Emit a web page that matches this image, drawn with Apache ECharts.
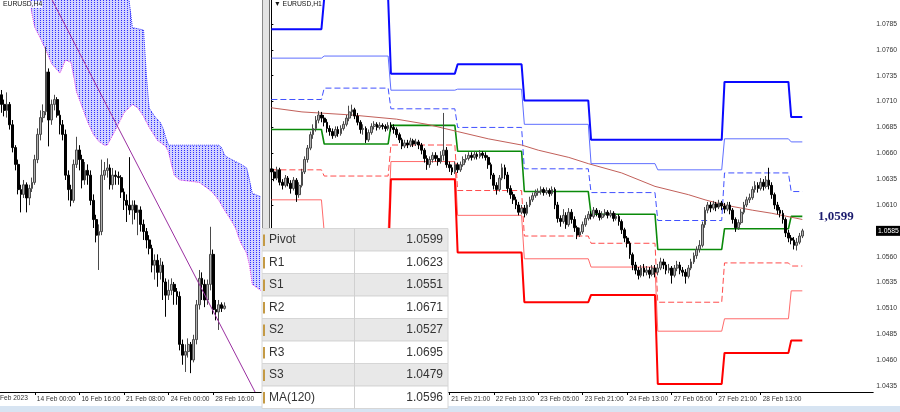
<!DOCTYPE html>
<html><head><meta charset="utf-8">
<script src="https://cdn.jsdelivr.net/npm/echarts@6/dist/echarts.min.js"></script>
<style>html,body{margin:0;padding:0;background:#fff;overflow:hidden}#c{width:900px;height:412px}</style>
</head><body><div id="c"></div>
<script>
// ================= DATA =================
// H4 panel (left) candles: [open, close, low, high]
const h4Candles = [
[1.0771,1.0763,1.0756,1.0775],[1.0763,1.0758,1.0753,1.0767],[1.0758,1.0763,1.0752,1.0773],[1.0763,1.0746,1.0742,1.0765],
[1.0746,1.0727,1.0723,1.0750],[1.0727,1.0713,1.0708,1.0729],[1.0713,1.0692,1.0688,1.0717],[1.0692,1.0688,1.0673,1.0696],
[1.0688,1.0696,1.0685,1.0700],[1.0696,1.0685,1.0673,1.0698],[1.0685,1.0693,1.0679,1.0696],[1.0693,1.0698,1.0690,1.0702],
[1.0698,1.0717,1.0696,1.0721],[1.0717,1.0738,1.0714,1.0743],[1.0738,1.0752,1.0733,1.0758],[1.0752,1.0757,1.0748,1.0763],
[1.0757,1.0790,1.0754,1.0811],[1.0790,1.0750,1.0728,1.0793],[1.0750,1.0763,1.0746,1.0767],[1.0763,1.0767,1.0758,1.0771],
[1.0767,1.0754,1.0752,1.0769],[1.0754,1.0746,1.0738,1.0758],[1.0746,1.0738,1.0733,1.0750],[1.0738,1.0704,1.0700,1.0742],
[1.0704,1.0692,1.0683,1.0708],[1.0692,1.0683,1.0678,1.0696],[1.0683,1.0713,1.0681,1.0717],[1.0713,1.0725,1.0710,1.0736],
[1.0725,1.0717,1.0708,1.0729],[1.0717,1.0700,1.0693,1.0721],[1.0700,1.0708,1.0696,1.0715],[1.0708,1.0704,1.0696,1.0713],
[1.0704,1.0683,1.0679,1.0708],[1.0683,1.0667,1.0660,1.0688],[1.0667,1.0654,1.0648,1.0671],[1.0654,1.0657,1.0625,1.0663],
[1.0657,1.0704,1.0654,1.0717],[1.0704,1.0708,1.0700,1.0715],[1.0708,1.0710,1.0702,1.0718],[1.0710,1.0696,1.0692,1.0713],
[1.0696,1.0704,1.0692,1.0710],[1.0704,1.0703,1.0696,1.0708],[1.0703,1.0702,1.0696,1.0707],[1.0702,1.0690,1.0685,1.0704],
[1.0690,1.0683,1.0675,1.0693],[1.0683,1.0679,1.0665,1.0688],[1.0679,1.0675,1.0671,1.0719],[1.0675,1.0679,1.0663,1.0683],
[1.0679,1.0673,1.0667,1.0683],[1.0673,1.0675,1.0654,1.0679],[1.0675,1.0663,1.0657,1.0678],[1.0663,1.0657,1.0650,1.0667],
[1.0657,1.0650,1.0643,1.0660],[1.0650,1.0643,1.0638,1.0654],[1.0643,1.0629,1.0623,1.0646],[1.0629,1.0633,1.0617,1.0638],
[1.0633,1.0623,1.0611,1.0638],[1.0623,1.0629,1.0617,1.0635],[1.0629,1.0615,1.0600,1.0632],[1.0615,1.0604,1.0586,1.0618],
[1.0604,1.0608,1.0600,1.0617],[1.0608,1.0613,1.0604,1.0618],[1.0613,1.0607,1.0596,1.0615],[1.0607,1.0603,1.0596,1.0610],
[1.0603,1.0563,1.0558,1.0607],[1.0563,1.0554,1.0546,1.0567],[1.0554,1.0557,1.0540,1.0563],[1.0557,1.0563,1.0552,1.0568],
[1.0563,1.0550,1.0539,1.0565],[1.0550,1.0567,1.0548,1.0571],[1.0567,1.0596,1.0563,1.0600],[1.0596,1.0618,1.0592,1.0625],
[1.0618,1.0613,1.0600,1.0623],[1.0613,1.0600,1.0594,1.0617],[1.0600,1.0613,1.0596,1.0617],[1.0613,1.0638,1.0608,1.0661],
[1.0638,1.0592,1.0588,1.0642],[1.0592,1.0590,1.0583,1.0600],[1.0590,1.0596,1.0575,1.0600],[1.0596,1.0593,1.0590,1.0598],
[1.0593,1.0595,1.0592,1.0598]
];
const h4SlotCount = 94;
const h4TickLabels = [[12,'14 Feb 00:00'],[28,'16 Feb 16:00'],[44,'21 Feb 08:00'],[60,'24 Feb 00:00'],[76,'28 Feb 16:00']];
const h4FirstLabel = 'Feb 2023';
// Ichimoku cloud borders [bar, price]
const kumoUpper = [[9,1.0867],[45,1.0867],[46,1.0846],[47,1.0827],[51,1.0825],[52,1.0788],[53,1.0760],[55,1.0753],[57,1.0748],[58,1.0743],[59,1.0735],[60,1.0729],[78,1.0729],[79,1.0727],[80,1.0721],[81,1.0719],[86,1.0713],[88,1.0710],[89,1.0700],[90,1.0689],[93,1.0686]];
const kumoLower = [[9,1.0867],[10,1.0854],[11,1.0838],[12,1.0827],[14,1.0818],[16,1.0808],[18,1.0797],[21,1.0789],[23,1.0800],[25,1.0798],[27,1.0773],[28,1.0767],[31,1.0748],[33,1.0738],[35,1.0732],[37,1.0729],[38,1.0729],[41,1.0742],[44,1.0756],[47,1.0763],[49,1.0760],[51,1.0753],[53,1.0744],[56,1.0733],[59,1.0728],[60,1.0723],[61,1.0713],[62,1.0704],[64,1.0700],[71,1.0698],[74,1.0693],[76,1.0689],[78,1.0683],[80,1.0675],[82,1.0668],[84,1.0660],[85,1.0653],[86,1.0647],[88,1.0639],[89,1.0629],[90,1.0613],[93,1.0608]];
const h4TrendLine = [[18.2,1.0850],[91,1.05233]];

// H1 panel (right) candles: [open, close, low, high]
const h1Candles = [
[1.0645,1.0642,1.0638,1.0649],[1.0642,1.0636,1.0633,1.0645],[1.0636,1.0644,1.0634,1.0647],[1.0644,1.0632,1.0629,1.0646],
[1.0632,1.0629,1.0625,1.0635],[1.0629,1.0636,1.0627,1.0639],[1.0636,1.0631,1.0628,1.0638],[1.0631,1.0626,1.0621,1.0634],
[1.0626,1.0634,1.0624,1.0637],[1.0634,1.0620,1.0613,1.0636],[1.0620,1.0629,1.0617,1.0632],[1.0629,1.0642,1.0627,1.0645],
[1.0642,1.0654,1.0640,1.0657],[1.0654,1.0665,1.0651,1.0668],[1.0665,1.0678,1.0663,1.0681],[1.0678,1.0684,1.0674,1.0688],
[1.0684,1.0692,1.0681,1.0696],[1.0692,1.0697,1.0689,1.0701],[1.0697,1.0694,1.0690,1.0700],[1.0694,1.0690,1.0686,1.0697],
[1.0690,1.0684,1.0680,1.0693],[1.0684,1.0681,1.0677,1.0687],[1.0681,1.0677,1.0674,1.0684],[1.0677,1.0683,1.0675,1.0686],
[1.0683,1.0679,1.0676,1.0686],[1.0679,1.0684,1.0677,1.0687],[1.0684,1.0688,1.0682,1.0691],[1.0688,1.0694,1.0686,1.0697],
[1.0694,1.0700,1.0691,1.0706],[1.0700,1.0702,1.0696,1.0707],[1.0702,1.0696,1.0693,1.0704],[1.0696,1.0690,1.0687,1.0699],
[1.0690,1.0683,1.0679,1.0692],[1.0683,1.0684,1.0678,1.0688],[1.0684,1.0673,1.0670,1.0686],[1.0673,1.0680,1.0671,1.0683],
[1.0680,1.0686,1.0678,1.0689],[1.0686,1.0688,1.0683,1.0691],[1.0688,1.0685,1.0682,1.0690],[1.0685,1.0687,1.0683,1.0690],
[1.0687,1.0686,1.0683,1.0689],[1.0686,1.0684,1.0681,1.0688],[1.0684,1.0687,1.0682,1.0690],[1.0687,1.0685,1.0681,1.0690],
[1.0685,1.0683,1.0679,1.0688],[1.0683,1.0678,1.0675,1.0685],[1.0678,1.0673,1.0670,1.0680],[1.0673,1.0667,1.0664,1.0675],
[1.0667,1.0670,1.0665,1.0673],[1.0670,1.0668,1.0665,1.0673],[1.0668,1.0672,1.0666,1.0675],[1.0672,1.0669,1.0666,1.0674],
[1.0669,1.0671,1.0667,1.0674],[1.0671,1.0668,1.0664,1.0673],[1.0668,1.0663,1.0659,1.0670],[1.0663,1.0655,1.0651,1.0665],
[1.0655,1.0649,1.0644,1.0658],[1.0649,1.0654,1.0646,1.0657],[1.0654,1.0658,1.0651,1.0661],[1.0658,1.0655,1.0652,1.0661],
[1.0655,1.0652,1.0648,1.0658],[1.0652,1.0658,1.0650,1.0662],[1.0658,1.0663,1.0653,1.0699],[1.0663,1.0649,1.0646,1.0666],
[1.0649,1.0646,1.0642,1.0652],[1.0646,1.0642,1.0639,1.0649],[1.0642,1.0649,1.0640,1.0652],[1.0649,1.0644,1.0641,1.0651],
[1.0644,1.0649,1.0642,1.0652],[1.0649,1.0654,1.0647,1.0657],[1.0654,1.0655,1.0651,1.0659],[1.0655,1.0658,1.0653,1.0661],
[1.0658,1.0656,1.0653,1.0661],[1.0656,1.0659,1.0654,1.0662],[1.0659,1.0657,1.0654,1.0661],[1.0657,1.0660,1.0655,1.0663],
[1.0660,1.0658,1.0655,1.0662],[1.0658,1.0656,1.0653,1.0661],[1.0656,1.0649,1.0645,1.0658],[1.0649,1.0639,1.0635,1.0651],
[1.0639,1.0629,1.0625,1.0641],[1.0629,1.0625,1.0620,1.0632],[1.0625,1.0636,1.0623,1.0639],[1.0636,1.0646,1.0634,1.0650],
[1.0646,1.0639,1.0635,1.0649],[1.0639,1.0626,1.0622,1.0642],[1.0626,1.0620,1.0616,1.0629],[1.0620,1.0615,1.0611,1.0623],
[1.0615,1.0610,1.0606,1.0618],[1.0610,1.0603,1.0600,1.0613],[1.0603,1.0607,1.0601,1.0610],[1.0607,1.0602,1.0598,1.0610],
[1.0602,1.0610,1.0600,1.0613],[1.0610,1.0615,1.0608,1.0618],[1.0615,1.0619,1.0613,1.0622],[1.0619,1.0622,1.0617,1.0625],
[1.0622,1.0623,1.0619,1.0626],[1.0623,1.0625,1.0620,1.0628],[1.0625,1.0622,1.0619,1.0627],[1.0622,1.0624,1.0620,1.0627],
[1.0624,1.0621,1.0618,1.0626],[1.0621,1.0625,1.0619,1.0628],[1.0625,1.0610,1.0606,1.0627],[1.0610,1.0597,1.0593,1.0613],
[1.0597,1.0594,1.0589,1.0600],[1.0594,1.0600,1.0592,1.0606],[1.0600,1.0591,1.0587,1.0603],[1.0591,1.0603,1.0589,1.0607],
[1.0603,1.0596,1.0592,1.0606],[1.0596,1.0588,1.0584,1.0599],[1.0588,1.0581,1.0577,1.0590],[1.0581,1.0584,1.0579,1.0588],
[1.0584,1.0591,1.0582,1.0594],[1.0591,1.0597,1.0589,1.0600],[1.0597,1.0601,1.0595,1.0604],[1.0601,1.0599,1.0596,1.0604],
[1.0599,1.0605,1.0597,1.0608],[1.0605,1.0602,1.0599,1.0607],[1.0602,1.0598,1.0595,1.0605],[1.0598,1.0601,1.0596,1.0604],
[1.0601,1.0603,1.0599,1.0606],[1.0603,1.0600,1.0597,1.0605],[1.0600,1.0602,1.0598,1.0605],[1.0602,1.0597,1.0594,1.0604],
[1.0597,1.0599,1.0595,1.0602],[1.0599,1.0594,1.0590,1.0601],[1.0594,1.0586,1.0582,1.0596],[1.0586,1.0578,1.0574,1.0588],
[1.0578,1.0573,1.0569,1.0580],[1.0573,1.0562,1.0558,1.0575],[1.0562,1.0552,1.0547,1.0564],[1.0552,1.0547,1.0543,1.0555],
[1.0547,1.0542,1.0538,1.0550],[1.0542,1.0549,1.0540,1.0552],[1.0549,1.0545,1.0541,1.0553],[1.0545,1.0547,1.0542,1.0551],
[1.0547,1.0543,1.0539,1.0550],[1.0543,1.0549,1.0541,1.0552],[1.0549,1.0545,1.0540,1.0552],[1.0545,1.0549,1.0542,1.0553],
[1.0549,1.0555,1.0547,1.0559],[1.0555,1.0552,1.0548,1.0558],[1.0552,1.0547,1.0543,1.0555],[1.0547,1.0549,1.0544,1.0553],
[1.0549,1.0542,1.0534,1.0551],[1.0542,1.0549,1.0540,1.0552],[1.0549,1.0552,1.0546,1.0556],[1.0552,1.0547,1.0543,1.0555],
[1.0547,1.0545,1.0541,1.0550],[1.0545,1.0541,1.0534,1.0548],[1.0541,1.0549,1.0539,1.0552],[1.0549,1.0555,1.0547,1.0558],
[1.0555,1.0561,1.0553,1.0564],[1.0561,1.0567,1.0558,1.0570],[1.0567,1.0571,1.0564,1.0576],[1.0571,1.0591,1.0569,1.0594],
[1.0591,1.0605,1.0588,1.0608],[1.0605,1.0610,1.0602,1.0613],[1.0610,1.0607,1.0603,1.0613],[1.0607,1.0611,1.0605,1.0614],
[1.0611,1.0608,1.0604,1.0613],[1.0608,1.0612,1.0606,1.0615],[1.0612,1.0609,1.0605,1.0614],[1.0609,1.0606,1.0602,1.0612],
[1.0606,1.0610,1.0604,1.0613],[1.0610,1.0605,1.0601,1.0613],[1.0605,1.0596,1.0592,1.0607],[1.0596,1.0588,1.0584,1.0598],
[1.0588,1.0593,1.0586,1.0596],[1.0593,1.0603,1.0591,1.0606],[1.0603,1.0610,1.0601,1.0613],[1.0610,1.0615,1.0608,1.0618],
[1.0615,1.0617,1.0612,1.0621],[1.0617,1.0625,1.0615,1.0628],[1.0625,1.0629,1.0622,1.0633],[1.0629,1.0626,1.0622,1.0632],
[1.0626,1.0632,1.0624,1.0636],[1.0632,1.0628,1.0624,1.0635],[1.0628,1.0634,1.0626,1.0638],[1.0634,1.0629,1.0625,1.0646],
[1.0629,1.0620,1.0616,1.0632],[1.0620,1.0610,1.0606,1.0622],[1.0610,1.0605,1.0601,1.0613],[1.0605,1.0602,1.0598,1.0608],
[1.0602,1.0596,1.0592,1.0605],[1.0596,1.0583,1.0579,1.0598],[1.0583,1.0578,1.0574,1.0586],[1.0578,1.0576,1.0572,1.0581],
[1.0576,1.0571,1.0567,1.0579],[1.0571,1.0574,1.0566,1.0578],[1.0574,1.0580,1.0572,1.0583],[1.0580,1.0585,1.0578,1.0587]
];
const h1SlotCount = 217;
const h1TickLabels = [[0,'17 Feb 05:00'],[16,'17 Feb 21:00'],[32,'20 Feb 13:00'],[48,'21 Feb 05:00'],[64,'21 Feb 21:00'],[80,'22 Feb 13:00'],[96,'23 Feb 05:00'],[112,'23 Feb 21:00'],[128,'24 Feb 13:00'],[144,'27 Feb 05:00'],[160,'27 Feb 21:00'],[176,'28 Feb 13:00']];
const priceTicks = [1.0435,1.0460,1.0485,1.0510,1.0535,1.0560,1.0585,1.0610,1.0635,1.0660,1.0685,1.0710,1.0735,1.0760,1.0785];
const lastPrice = 1.0585;

// Daily pivot levels (17 Feb, 20 Feb ... 1 Mar), day first/last H1 bar
const dayFirstBar = [0,19,43,67,91,115,139,163,187];
const dayLastBar  = [18,42,66,90,114,138,162,186,191];
const pivotR3 = [1.0780,1.0810,1.0737,1.0746,1.0711,1.0673,1.0673,1.0729,1.0695];
const pivotR2 = [1.0752,1.0754,1.0721,1.0722,1.0688,1.0650,1.0644,1.0674,1.0671];
const pivotR1 = [1.0712,1.0723,1.0703,1.0685,1.0645,1.0622,1.0595,1.0641,1.0623];
const pivotP  = [1.0683,1.0669,1.0687,1.0662,1.0623,1.0601,1.0567,1.0587,1.0599];
const pivotS1 = [1.0644,1.0638,1.0668,1.0624,1.0580,1.0573,1.0516,1.0554,1.0551];
const pivotS2 = [1.0615,1.0584,1.0652,1.0600,1.0558,1.0550,1.0488,1.0500,1.0527];
const pivotS3 = [1.0576,1.0553,1.0635,1.0564,1.0516,1.0523,1.0437,1.0467,1.0479];
// MA(120) readings [bar, price]
const ma120 = [[0,1.0704],[11,1.0700],[29,1.0697],[45,1.0693],[56,1.0688],[67,1.0681],[78,1.0674],[90,1.0668],[96,1.0663],[107,1.0656],[114,1.0650],[126,1.0641],[138,1.0628],[150,1.0620],[156,1.0615],[163,1.0610],[173,1.0605],[180,1.0602],[191,1.0596]];

// Info table
const tableNames  = ['Pivot','R1','S1','R2','S2','R3','S3','MA(120)'];
const tableValues = ['1.0599','1.0623','1.0551','1.0671','1.0527','1.0695','1.0479','1.0596'];
const pivotTag = '1,0599';

// ================= CHART =================
const h4Cats = Array.from({length: h4SlotCount}, () => '');
h4TickLabels.forEach(([i, t]) => { h4Cats[i] = t; });
const h1Cats = Array.from({length: h1SlotCount}, () => '');
h1TickLabels.forEach(([i, t]) => { h1Cats[i] = t; });

function stepLine(levels) {
  const out = [];
  levels.forEach((v, d) => { out.push([dayFirstBar[d], v]); out.push([dayLastBar[d], v]); });
  return out;
}
const pc = document.createElement('canvas'); pc.width = 3; pc.height = 2;
const pctx = pc.getContext('2d'); pctx.fillStyle = '#2f2fff'; pctx.fillRect(1, 0, 1, 1);

const FONT = '"Liberation Sans", Arial, sans-serif';
const labelFn = (i, v) => v !== '';
const chart = echarts.init(document.getElementById('c'), null, {renderer: 'canvas'});

function lineSeries(name, data, color, width, type, z) {
  return {name, type: 'line', xAxisIndex: 3, yAxisIndex: 1, data, showSymbol: false, symbol: 'none',
    lineStyle: {color, width, type: type || 'solid'}, silent: true, z: z || 3, clip: true};
}
const candleStyle = {color: '#b0b0b0', color0: '#000000', borderColor: '#4a4a4a', borderColor0: '#000000', borderWidth: 1};

chart.setOption({
  animation: false,
  backgroundColor: '#ffffff',
  grid: [
    {left: 0, top: 0, width: 262, height: 392},
    {left: 270, top: 0, width: 605, height: 392}
  ],
  xAxis: [
    {type: 'category', gridIndex: 0, data: h4Cats, boundaryGap: true,
     axisLine: {show: true, lineStyle: {color: '#000', width: 1}},
     axisTick: {show: true, interval: labelFn, alignWithLabel: true, length: 3, lineStyle: {color: '#000'}},
     axisLabel: {interval: labelFn, align: 'left', margin: 4, padding: [0,0,0,2], fontSize: 6.6, color: '#333', fontFamily: FONT},
     splitLine: {show: false}},
    {type: 'value', gridIndex: 0, min: -0.5, max: h4SlotCount - 0.5, show: false},
    {type: 'category', gridIndex: 1, data: h1Cats, boundaryGap: true,
     axisLine: {show: true, lineStyle: {color: '#000', width: 1}},
     axisTick: {show: true, interval: labelFn, alignWithLabel: true, length: 3, lineStyle: {color: '#000'}},
     axisLabel: {interval: labelFn, align: 'left', margin: 4, padding: [0,0,0,2], fontSize: 6.6, color: '#333', fontFamily: FONT},
     splitLine: {show: false}},
    {type: 'value', gridIndex: 1, min: -0.5, max: h1SlotCount - 0.5, show: false}
  ],
  yAxis: [
    {type: 'value', gridIndex: 0, min: 1.05233, max: 1.0850, show: false},
    {type: 'value', gridIndex: 1, position: 'right', min: 1.04292, max: 1.08082,
     axisLine: {show: true, lineStyle: {color: '#000', width: 1}},
     axisTick: {show: true, customValues: priceTicks, length: 2, lineStyle: {color: '#000'}},
     axisLabel: {customValues: priceTicks, formatter: v => v.toFixed(4), fontSize: 6.8, color: '#333', margin: 3, fontFamily: FONT},
     splitLine: {show: false}}
  ],
  series: [
    {type: 'custom', xAxisIndex: 1, yAxisIndex: 0, data: [0], silent: true, z: 1,
     renderItem: (params, api) => {
       const pts = kumoUpper.map(p => api.coord(p)).concat(kumoLower.slice().reverse().map(p => api.coord(p)));
       return {type: 'group', children: [
         {type: 'polygon', shape: {points: pts}, style: {fill: 'rgba(110,110,255,0.30)'}},
         {type: 'polygon', shape: {points: pts}, style: {fill: {image: pc, repeat: 'repeat'}}}
       ]};
     }},
    {type: 'line', xAxisIndex: 1, yAxisIndex: 0, data: kumoUpper, showSymbol: false, symbol: 'none', silent: true, z: 2,
     lineStyle: {color: '#2a2aff', width: 1, type: 'dotted'}},
    {type: 'line', xAxisIndex: 1, yAxisIndex: 0, data: kumoLower, showSymbol: false, symbol: 'none', silent: true, z: 2,
     lineStyle: {color: '#e43ce4', width: 1, type: 'dotted'}},
    {type: 'line', xAxisIndex: 1, yAxisIndex: 0, data: h4TrendLine, showSymbol: false, symbol: 'none', silent: true, z: 4,
     lineStyle: {color: '#9a2fa0', width: 1}},
    {type: 'candlestick', xAxisIndex: 0, yAxisIndex: 0, data: h4Candles, barWidth: 2.3, silent: true, z: 3, itemStyle: candleStyle},
    lineSeries('R3', stepLine(pivotR3), '#0a0aff', 2),
    lineSeries('R2', stepLine(pivotR2), '#5f6fff', 1),
    lineSeries('R1', stepLine(pivotR1), '#4050ff', 1, [6, 3]),
    lineSeries('P', stepLine(pivotP), '#0a8a0a', 1.6),
    lineSeries('S1', stepLine(pivotS1), '#ff4b4b', 1, [6, 3]),
    lineSeries('S2', stepLine(pivotS2), '#ff6b6b', 1),
    lineSeries('S3', stepLine(pivotS3), '#ff0000', 2),
    lineSeries('MA', ma120, '#c2605a', 1),
    {type: 'candlestick', xAxisIndex: 2, yAxisIndex: 1, data: h1Candles, barWidth: 2.2, silent: true, z: 5, itemStyle: candleStyle}
  ]
});

// overlays
const g = [];
g.push({type: 'rect', shape: {x: 0, y: 406, width: 900, height: 6}, style: {fill: '#d7e4f2'}, z: 90});
g.push({type: 'rect', shape: {x: 262, y: 0, width: 8, height: 406}, style: {fill: '#e4e4e4'}, z: 90});
g.push({type: 'line', shape: {x1: 262.5, y1: 0, x2: 262.5, y2: 406}, style: {stroke: '#8a8a8a', lineWidth: 1}, z: 91});
g.push({type: 'line', shape: {x1: 269.5, y1: 0, x2: 269.5, y2: 406}, style: {stroke: '#6a6a6a', lineWidth: 1}, z: 91});
g.push({type: 'text', x: 3, y: 1, style: {text: 'EURUSD,H4', font: '6.8px ' + FONT, fill: '#111', backgroundColor: 'rgba(255,255,255,0.8)'}, z: 95});
g.push({type: 'text', x: 274, y: 1, style: {text: '\u25BC EURUSD,H1', font: '6.8px ' + FONT, fill: '#111'}, z: 95});
g.push({type: 'text', x: 0, y: 395, style: {text: h4FirstLabel, font: '6.6px ' + FONT, fill: '#333'}, z: 95});
// table
const rowTop0 = 228.5, rowH = 22.5, tx0 = 262, tx1 = 448;
tableNames.forEach((n, k) => {
  const y = rowTop0 + k * rowH;
  g.push({type: 'rect', shape: {x: tx0, y: y, width: tx1 - tx0, height: rowH}, style: {fill: k % 2 === 0 ? '#e8e8e8' : '#ffffff', stroke: '#d6d6d6', lineWidth: 1}, z: 100});
  g.push({type: 'rect', shape: {x: 263, y: y + 6, width: 2, height: rowH - 11}, style: {fill: '#c49a45'}, z: 101});
  g.push({type: 'text', x: 269, y: y + rowH / 2, style: {text: n, font: '12px ' + FONT, fill: '#333', align: 'left', verticalAlign: 'middle'}, z: 101});
  g.push({type: 'text', x: 443, y: y + rowH / 2, style: {text: tableValues[k], font: '12px ' + FONT, fill: '#333', align: 'right', verticalAlign: 'middle'}, z: 101});
});
g.push({type: 'line', shape: {x1: 354.5, y1: rowTop0, x2: 354.5, y2: rowTop0 + rowH * tableNames.length}, style: {stroke: '#d0d0d0', lineWidth: 1}, z: 101});
// pivot tag and current price box
const py = chart.convertToPixel({yAxisIndex: 1}, pivotP[pivotP.length - 1]);
g.push({type: 'text', x: 818, y: py, style: {text: pivotTag, font: 'bold 13px "Liberation Serif", "DejaVu Serif", serif', fill: '#1c1c6e', align: 'left', verticalAlign: 'middle'}, z: 95});
const ly = chart.convertToPixel({yAxisIndex: 1}, lastPrice);
g.push({type: 'rect', shape: {x: 876, y: ly - 5, width: 24, height: 10}, style: {fill: '#000'}, z: 95});
g.push({type: 'text', x: 878, y: ly, style: {text: lastPrice.toFixed(4), font: '6.8px ' + FONT, fill: '#fff', align: 'left', verticalAlign: 'middle'}, z: 96});
chart.setOption({graphic: g});
</script></body></html>
